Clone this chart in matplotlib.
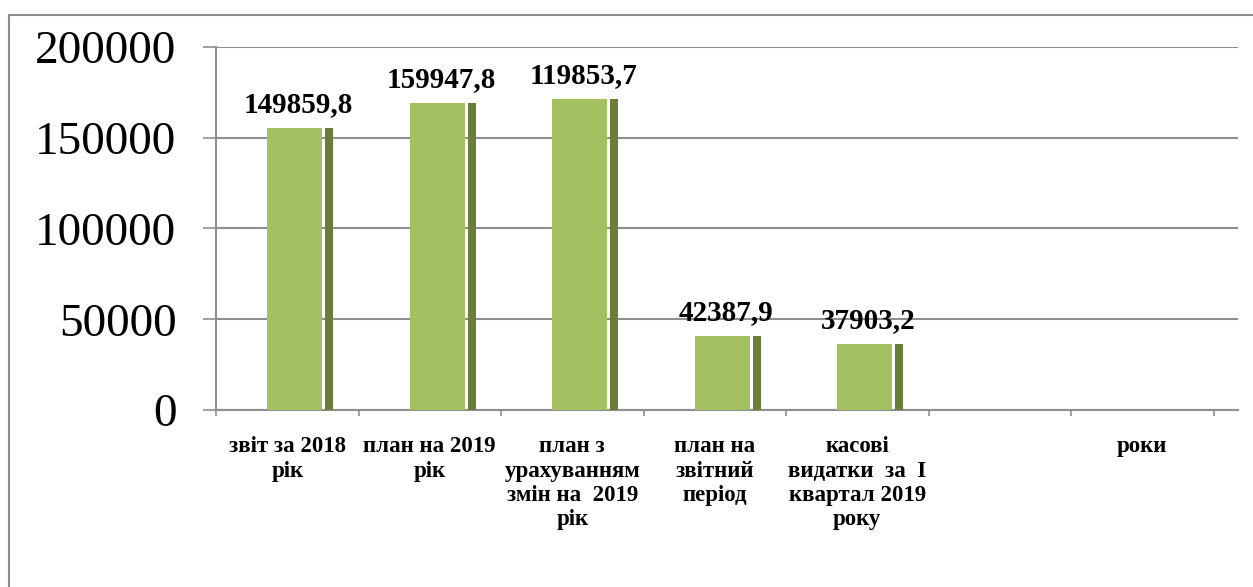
import numpy as np
import matplotlib
matplotlib.use('Agg')
import matplotlib.pyplot as plt
import matplotlib.patches as mpatches

plt.rcParams['font.family'] = ['Liberation Serif', 'DejaVu Serif']

# categories (the last two slots are empty / axis caption)
categories = ['звіт за 2018\nрік',
              'план на 2019\nрік',
              'план з\nурахуванням\nзмін на  2019\nрік',
              'план на\nзвітний\nперіод',
              'касові\nвидатки  за  І\nквартал 2019\nроку',
              '',
              'роки']
# bar heights as drawn in the picture
bar_heights = [155400, 169100, 171300, 40800, 36400]
# data labels written above the bars
bar_labels = ['149859,8', '159947,8', '119853,7', '42387,9', '37903,2']
y_ticks = [0, 50000, 100000, 150000, 200000]

front_color = '#A3C160'
side_color = '#6A7E3A'
grid_color = '#8f8f8f'

fig = plt.figure(figsize=(12.53, 5.87), dpi=100)
ax = fig.add_axes([216 / 1253, 1 - 410 / 587, 1022 / 1253, 363 / 587])

x = np.arange(len(bar_heights))
# front face and darker side face of the pseudo-3d bars
ax.bar(x - 0.14, bar_heights, width=0.386, align='edge', color=front_color,
       zorder=3)
ax.bar(x + 0.265, bar_heights, width=0.058, align='edge', color=side_color,
       zorder=3)

for xi, h, lab in zip(x, bar_heights, bar_labels):
    ax.annotate(lab, (xi + 0.08, h), xytext=(0, 17), textcoords='offset points',
                ha='center', va='center', fontsize=21, fontweight='bold')

ax.set_xlim(-0.5, -0.5 + 1022 / 142.5)
ax.set_ylim(0, 200000)

ax.set_yticks(y_ticks)
ax.set_yticklabels([str(v) for v in y_ticks], fontsize=34)
ax.tick_params(axis='y', length=9.5, width=1.2, color=grid_color, pad=19)

# boundary ticks at major positions, category text at minor positions
ax.set_xticks(np.arange(len(categories) + 1) - 0.5)
ax.set_xticklabels([])
ax.set_xticks(np.arange(len(categories)), minor=True)
ax.set_xticklabels(categories, minor=True, fontsize=16.5, fontweight='bold',
                   linespacing=1.2, va='top')
ax.tick_params(axis='x', which='major', length=4, width=1.2, color=grid_color,
               direction='out')
ax.tick_params(axis='x', which='minor', length=0, pad=19)

ax.yaxis.grid(True, color=grid_color, linewidth=1.5, zorder=0)
ax.set_axisbelow(True)
for side in ['top', 'right']:
    ax.spines[side].set_visible(False)
ax.spines['left'].set_color(grid_color)
ax.spines['left'].set_linewidth(1.5)
ax.spines['bottom'].set_color(grid_color)
ax.spines['bottom'].set_linewidth(1.5)

# outer frame of the chart (right and bottom fall outside the image)
fig.patches.append(mpatches.Rectangle(
    (9 / 1253, -0.1), 2, 0.1 + 1 - 15 / 587, transform=fig.transFigure,
    fill=False, edgecolor='#8c8c8c', linewidth=1.5))

fig.savefig('out.png', dpi=100)
